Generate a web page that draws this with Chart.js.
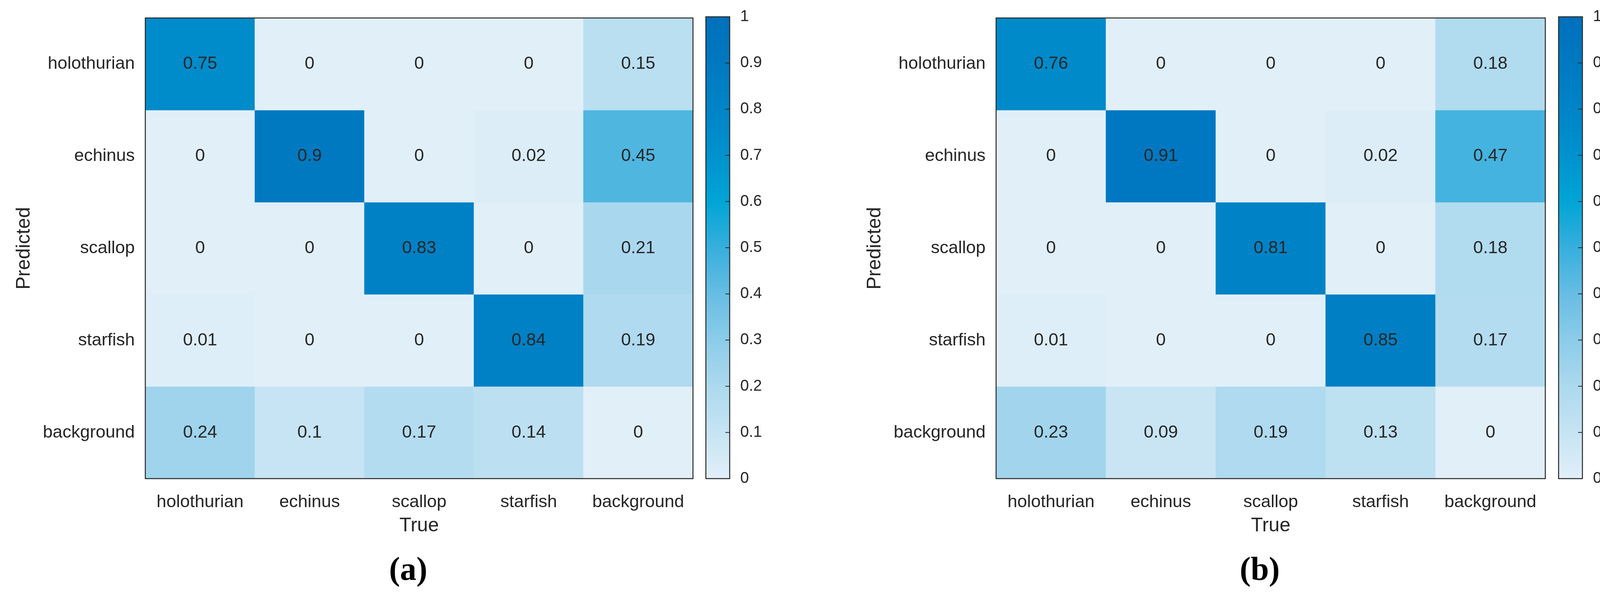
<!DOCTYPE html>
<html>
<head>
<meta charset="utf-8">
<title>Confusion matrices</title>
<script src="https://cdn.jsdelivr.net/npm/chart.js@4.4.1/dist/chart.umd.min.js"></script>
<style>
    html, body { margin: 0; padding: 0; background: #fff; }
    #page { position: relative; width: 4159px; height: 1528px; overflow: hidden; }
    canvas { position: absolute; top: 0; }
    .caption {
        position: absolute;
        font-family: 'Liberation Serif', 'Times New Roman', serif;
        font-weight: bold;
        font-size: 84px;
        line-height: 1;
        color: #000;
        transform: translate(-50%, -50%);
    }
</style>
</head>
<body>
<div id="page">
    <canvas id="matA" width="1784" height="1420" style="left:0px"></canvas>
    <canvas id="barA" width="220" height="1420" style="left:1790px"></canvas>
    <canvas id="matB" width="1788" height="1420" style="left:2178px"></canvas>
    <canvas id="barB" width="220" height="1420" style="left:3973px"></canvas>
    <div class="caption" style="left:1045px; top:1456px">(a)</div>
    <div class="caption" style="left:3225px; top:1456px">(b)</div>
</div>
<script>
// categories
const trueLabels = ['holothurian', 'echinus', 'scallop', 'starfish', 'background'];
const predictedLabels = ['holothurian', 'echinus', 'scallop', 'starfish', 'background'];

// confusion matrix (a): one row per predicted class, columns follow trueLabels
const matrixA = [
    [0.75, 0, 0, 0, 0.15],
    [0, 0.9, 0, 0.02, 0.45],
    [0, 0, 0.83, 0, 0.21],
    [0.01, 0, 0, 0.84, 0.19],
    [0.24, 0.1, 0.17, 0.14, 0]
];

// confusion matrix (b)
const matrixB = [
    [0.76, 0, 0, 0, 0.18],
    [0, 0.91, 0, 0.02, 0.47],
    [0, 0, 0.81, 0, 0.18],
    [0.01, 0, 0, 0.85, 0.17],
    [0.23, 0.09, 0.19, 0.13, 0]
];

// colorbar tick labels
const colorbarTicks = [0, 0.1, 0.2, 0.3, 0.4, 0.5, 0.6, 0.7, 0.8, 0.9, 1];

// colormap, light to dark blue
const COLOR_STOPS = [
    [225, 239, 249], [198, 228, 243], [172, 217, 238], [140, 204, 233],
    [103, 189, 227], [55, 175, 221], [0, 165, 214], [0, 146, 206],
    [0, 132, 199], [0, 121, 193], [0, 112, 188]
];
const TEXT_COLOR = '#262626';
const FONT_FAMILY = "'Liberation Sans', Arial, Helvetica, sans-serif";

Chart.defaults.font.family = FONT_FAMILY;
Chart.defaults.color = TEXT_COLOR;

const colorFor = (v) => {
    const t = Math.max(0, Math.min(1, v)) * (COLOR_STOPS.length - 1);
    const i = Math.min(Math.floor(t), COLOR_STOPS.length - 2);
    const f = t - i;
    const a = COLOR_STOPS[i], b = COLOR_STOPS[i + 1];
    const c = a.map((x, k) => Math.round(x + (b[k] - x) * f));
    return `rgb(${c[0]}, ${c[1]}, ${c[2]})`;
};

// frame around the chart area
const boxPlugin = {
    id: 'box',
    afterDraw(chart) {
        const { ctx, chartArea: a } = chart;
        ctx.save();
        ctx.strokeStyle = TEXT_COLOR;
        ctx.lineWidth = 2.5;
        ctx.strokeRect(a.left, a.top, a.right - a.left, a.bottom - a.top);
        ctx.restore();
    }
};

// value printed in the middle of every cell
const cellTextPlugin = {
    id: 'cellText',
    afterDatasetsDraw(chart) {
        const { ctx } = chart;
        ctx.save();
        ctx.font = `45px ${FONT_FAMILY}`;
        ctx.fillStyle = TEXT_COLOR;
        ctx.textAlign = 'center';
        ctx.textBaseline = 'middle';
        chart.data.datasets.forEach((ds, r) => {
            chart.getDatasetMeta(r).data.forEach((bar, c) => {
                ctx.fillText(String(ds.values[c]), bar.x, (bar.y + bar.base) / 2);
            });
        });
        ctx.restore();
    }
};

// short inward tick marks on the colorbar
const innerTicksPlugin = {
    id: 'innerTicks',
    afterDraw(chart) {
        const { ctx, chartArea: a } = chart;
        const y = chart.scales.y;
        ctx.save();
        ctx.strokeStyle = TEXT_COLOR;
        ctx.lineWidth = 2;
        y.ticks.forEach(t => {
            const py = y.getPixelForValue(t.value);
            ctx.beginPath();
            ctx.moveTo(a.right - 11, py);
            ctx.lineTo(a.right, py);
            ctx.stroke();
        });
        ctx.restore();
    }
};

const makeMatrix = (id, matrix) => {
    const datasets = predictedLabels.map((name, r) => ({
        label: name,
        data: trueLabels.map(() => [r, r + 1]),
        values: matrix[r],
        backgroundColor: matrix[r].map(colorFor),
        borderWidth: 0,
        grouped: false,
        barPercentage: 1,
        categoryPercentage: 1
    }));

    new Chart(document.getElementById(id), {
        type: 'bar',
        data: { labels: trueLabels, datasets },
        options: {
            responsive: false,
            animation: false,
            devicePixelRatio: 1,
            layout: { padding: { top: 40, left: 0, right: 10, bottom: 0 } },
            plugins: { legend: { display: false }, tooltip: { enabled: false } },
            scales: {
                x: {
                    type: 'category',
                    offset: true,
                    afterFit: (scale) => { scale.height = 195; },
                    grid: { display: false },
                    border: { display: false },
                    ticks: { padding: 26, maxRotation: 0, font: { size: 45 } },
                    title: {
                        display: true, text: 'True',
                        font: { size: 50 },
                        padding: { top: 0, bottom: 44 }
                    }
                },
                y: {
                    type: 'linear',
                    min: 0,
                    max: 5,
                    reverse: true,
                    afterBuildTicks: (scale) => {
                        scale.ticks = predictedLabels.map((_, i) => ({ value: i + 0.5 }));
                    },
                    afterFit: (scale) => { scale.width = 372; },
                    grid: { display: false },
                    border: { display: false },
                    ticks: {
                        padding: 19,
                        autoSkip: false,
                        font: { size: 45 },
                        callback: (v) => predictedLabels[Math.floor(v)]
                    },
                    title: {
                        display: true, text: 'Predicted',
                        font: { size: 50 },
                        padding: { top: 32, bottom: 0 }
                    }
                }
            }
        },
        plugins: [cellTextPlugin, boxPlugin]
    });
};

const makeColorbar = (id) => {
    new Chart(document.getElementById(id), {
        type: 'bar',
        data: {
            labels: ['scale'],
            datasets: [{
                data: [[0, 1]],
                borderWidth: 0,
                barPercentage: 1,
                categoryPercentage: 1,
                backgroundColor: (context) => {
                    const { chartArea, ctx } = context.chart;
                    if (!chartArea) return null;
                    const g = ctx.createLinearGradient(0, chartArea.bottom, 0, chartArea.top);
                    COLOR_STOPS.forEach((c, i) => {
                        g.addColorStop(i / (COLOR_STOPS.length - 1), `rgb(${c[0]}, ${c[1]}, ${c[2]})`);
                    });
                    return g;
                }
            }]
        },
        options: {
            responsive: false,
            animation: false,
            devicePixelRatio: 1,
            layout: { padding: { top: 40, left: 17, right: 0, bottom: 195 } },
            plugins: { legend: { display: false }, tooltip: { enabled: false } },
            scales: {
                x: { display: false },
                y: {
                    position: 'right',
                    min: 0,
                    max: 1,
                    afterBuildTicks: (scale) => {
                        scale.ticks = colorbarTicks.map(v => ({ value: v }));
                    },
                    afterFit: (scale) => { scale.width = 142; },
                    grid: { display: false },
                    border: { display: false },
                    ticks: {
                        padding: 19,
                        font: { size: 40 },
                        callback: (v) => String(v)
                    }
                }
            }
        },
        plugins: [boxPlugin, innerTicksPlugin]
    });
};

makeMatrix('matA', matrixA);
makeColorbar('barA');
makeMatrix('matB', matrixB);
makeColorbar('barB');
</script>
</body>
</html>
